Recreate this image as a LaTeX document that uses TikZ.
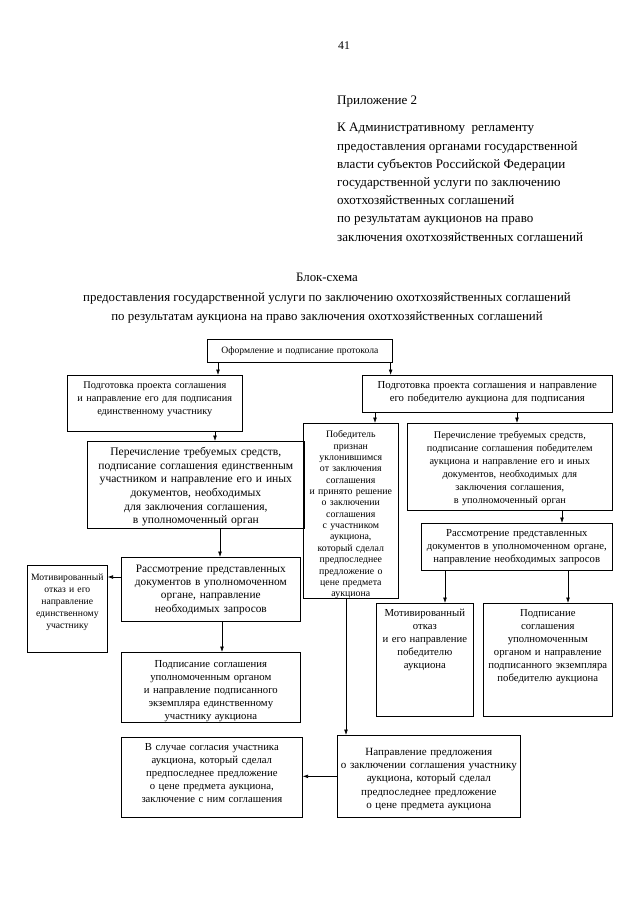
\documentclass[tikz,border=0pt]{standalone}
\usepackage{fontspec}
\setmainfont{Liberation Serif}
\usetikzlibrary{arrows.meta,calc}

\tikzset{
  blk/.style={draw, line width=0.6pt, anchor=north west, align=center,
    inner xsep=2pt, inner ysep=0pt, font=\fontsize{10}{12.2}\selectfont},
  arr/.style={-{Latex[length=5pt,width=3.5pt]}, line width=0.6pt},
}

\begin{document}
\begin{tikzpicture}[x=0.3281mm, y=-0.3281mm]
\useasboundingbox (0,0) rectangle (640,905);

% header
\node (pnum) at (344,46) {\fontsize{11}{13}\selectfont 41};
\node[anchor=base west, inner sep=0pt, font=\fontsize{12.2}{17}\selectfont] (appx) at (337,104) {Приложение 2};
\node[anchor=north west, inner sep=0pt, align=left, font=\fontsize{12.2}{17}\selectfont] (reg) at (337,123)
  {К Административному\ \ регламенту\\
   предоставления органами государственной\\
   власти субъектов Российской Федерации\\
   государственной услуги по заключению\\
   охотхозяйственных соглашений\\
   по результатам аукционов на право\\
   заключения охотхозяйственных соглашений};
\node[anchor=north, inner sep=0pt, align=center, font=\fontsize{12}{18.2}\selectfont] (title) at (327,273)
  {Блок-схема\\
   предоставления государственной услуги по заключению охотхозяйственных соглашений\\
   по результатам аукциона на право заключения охотхозяйственных соглашений};

% blocks
\node[blk, text width=168.7pt, text height=13.1pt, text depth=8.4pt, font=\fontsize{9}{11}\selectfont] (prot) at (207,339)
  {Оформление и подписание протокола};
\node[blk, text width=159.4pt, text height=12.1pt, text depth=40.1pt, font=\fontsize{9.6}{12.2}\selectfont] (prepL) at (67,375)
  {Подготовка проекта соглашения\\ и направление его для подписания\\ единственному участнику};
\node[blk, text width=229.4pt, text height=12.1pt, text depth=22.4pt] (prepR) at (362,375)
  {Подготовка проекта соглашения и направление\\ его победителю аукциона для подписания};
\node[blk, text width=84.7pt, text height=13.5pt, text depth=149.9pt, font=\fontsize{9.2}{10.6}\selectfont] (evade) at (303,423)
  {Победитель\\ признан\\ уклонившимся\\ от заключения\\ соглашения\\ и принято решение\\ о заключении\\ соглашения\\ с участником\\ аукциона,\\ который сделал\\ предпоследнее\\ предложение о\\ цене предмета\\ аукциона};
\node[blk, text width=187.4pt, text height=14pt, text depth=67.2pt, font=\fontsize{9.6}{12.2}\selectfont] (payR) at (407,423)
  {Перечисление требуемых средств,\\ подписание соглашения победителем\\ аукциона и направление его и иных\\ документов, необходимых для\\ заключения соглашения,\\ в уполномоченный орган};
\node[blk, text width=174.3pt, text height=12.1pt, text depth=31.7pt] (reviewR) at (421,523)
  {Рассмотрение представленных\\ документов в уполномоченном органе,\\ направление необходимых запросов};
\node[blk, text width=86.6pt, text height=12.1pt, text depth=93.4pt] (refuseR) at (376,603)
  {Мотивированный\\ отказ\\ и его направление\\ победителю\\ аукциона};
\node[blk, text width=116.4pt, text height=12.1pt, text depth=93.4pt] (signR) at (483,603)
  {Подписание\\ соглашения\\ уполномоченным\\ органом и направление\\ подписанного экземпляра\\ победителю аукциона};
\node[blk, text width=198.6pt, text height=13.1pt, text depth=68.2pt, font=\fontsize{10.8}{12.8}\selectfont] (payL) at (87,441)
  {Перечисление требуемых средств,\\ подписание соглашения единственным\\ участником и направление его и иных\\ документов, необходимых\\ для заключения соглашения,\\ в уполномоченный орган};
\node[blk, text width=163.1pt, text height=14pt, text depth=45.8pt, font=\fontsize{10.6}{12.4}\selectfont] (reviewL) at (121,557)
  {Рассмотрение представленных\\ документов в уполномоченном\\ органе, направление\\ необходимых запросов};
\node[blk, text width=70.7pt, text height=14pt, text depth=67.2pt, font=\fontsize{9}{11.2}\selectfont] (refuseL) at (27,565)
  {Мотивированный\\ отказ и его\\ направление\\ единственному\\ участнику};
\node[blk, text width=163.1pt, text height=14pt, text depth=51.4pt] (signL) at (121,652)
  {Подписание соглашения\\ уполномоченным органом\\ и направление подписанного\\ экземпляра единственному\\ участнику аукциона};
\node[blk, text width=165pt, text height=12.1pt, text depth=62.6pt] (agree) at (121,737)
  {В случае согласия участника\\ аукциона, который сделал\\ предпоследнее предложение\\ о цене предмета аукциона,\\ заключение с ним соглашения};
\node[blk, text width=166.8pt, text height=18.7pt, text depth=57.9pt, font=\fontsize{10.3}{12.4}\selectfont] (offer) at (337,735)
  {Направление предложения\\ о заключении соглашения участнику\\ аукциона, который сделал\\ предпоследнее предложение\\ о цене предмета аукциона};

% arrows
\draw[arr] ($(prot.south west)+(11,0)$) coordinate (a1) -- (a1 |- prepL.north);
\draw[arr] ($(prot.south east)+(-2,0)$) coordinate (a2) -- (a2 |- prepR.north);
\draw[arr] ($(prepR.south west)+(13,0)$) coordinate (a3) -- (a3 |- evade.north);
\draw[arr] ($(prepR.south west)+(155,0)$) coordinate (a4) -- (a4 |- payR.north);
\draw[arr] ($(payR.south west)+(155,0)$) coordinate (a5) -- (a5 |- reviewR.north);
\draw[arr] ($(reviewR.south west)+(24,0)$) coordinate (a6) -- (a6 |- refuseR.north);
\draw[arr] ($(reviewR.south west)+(147,0)$) coordinate (a7) -- (a7 |- signR.north);
\draw[arr] ($(prepL.south west)+(148,0)$) coordinate (a8) -- (a8 |- payL.north);
\draw[arr] ($(payL.south west)+(133,0)$) coordinate (a9) -- (a9 |- reviewL.north);
\draw[arr] ($(reviewL.north west)+(0,20)$) coordinate (a10) -- (a10 -| refuseL.east);
\draw[arr] ($(reviewL.south west)+(101,0)$) coordinate (a11) -- (a11 |- signL.north);
\draw[arr] ($(evade.south west)+(43,0)$) coordinate (a12) -- (a12 |- offer.north);
\draw[arr] (offer.west) -- (offer.west -| agree.east);
\end{tikzpicture}
\end{document}
